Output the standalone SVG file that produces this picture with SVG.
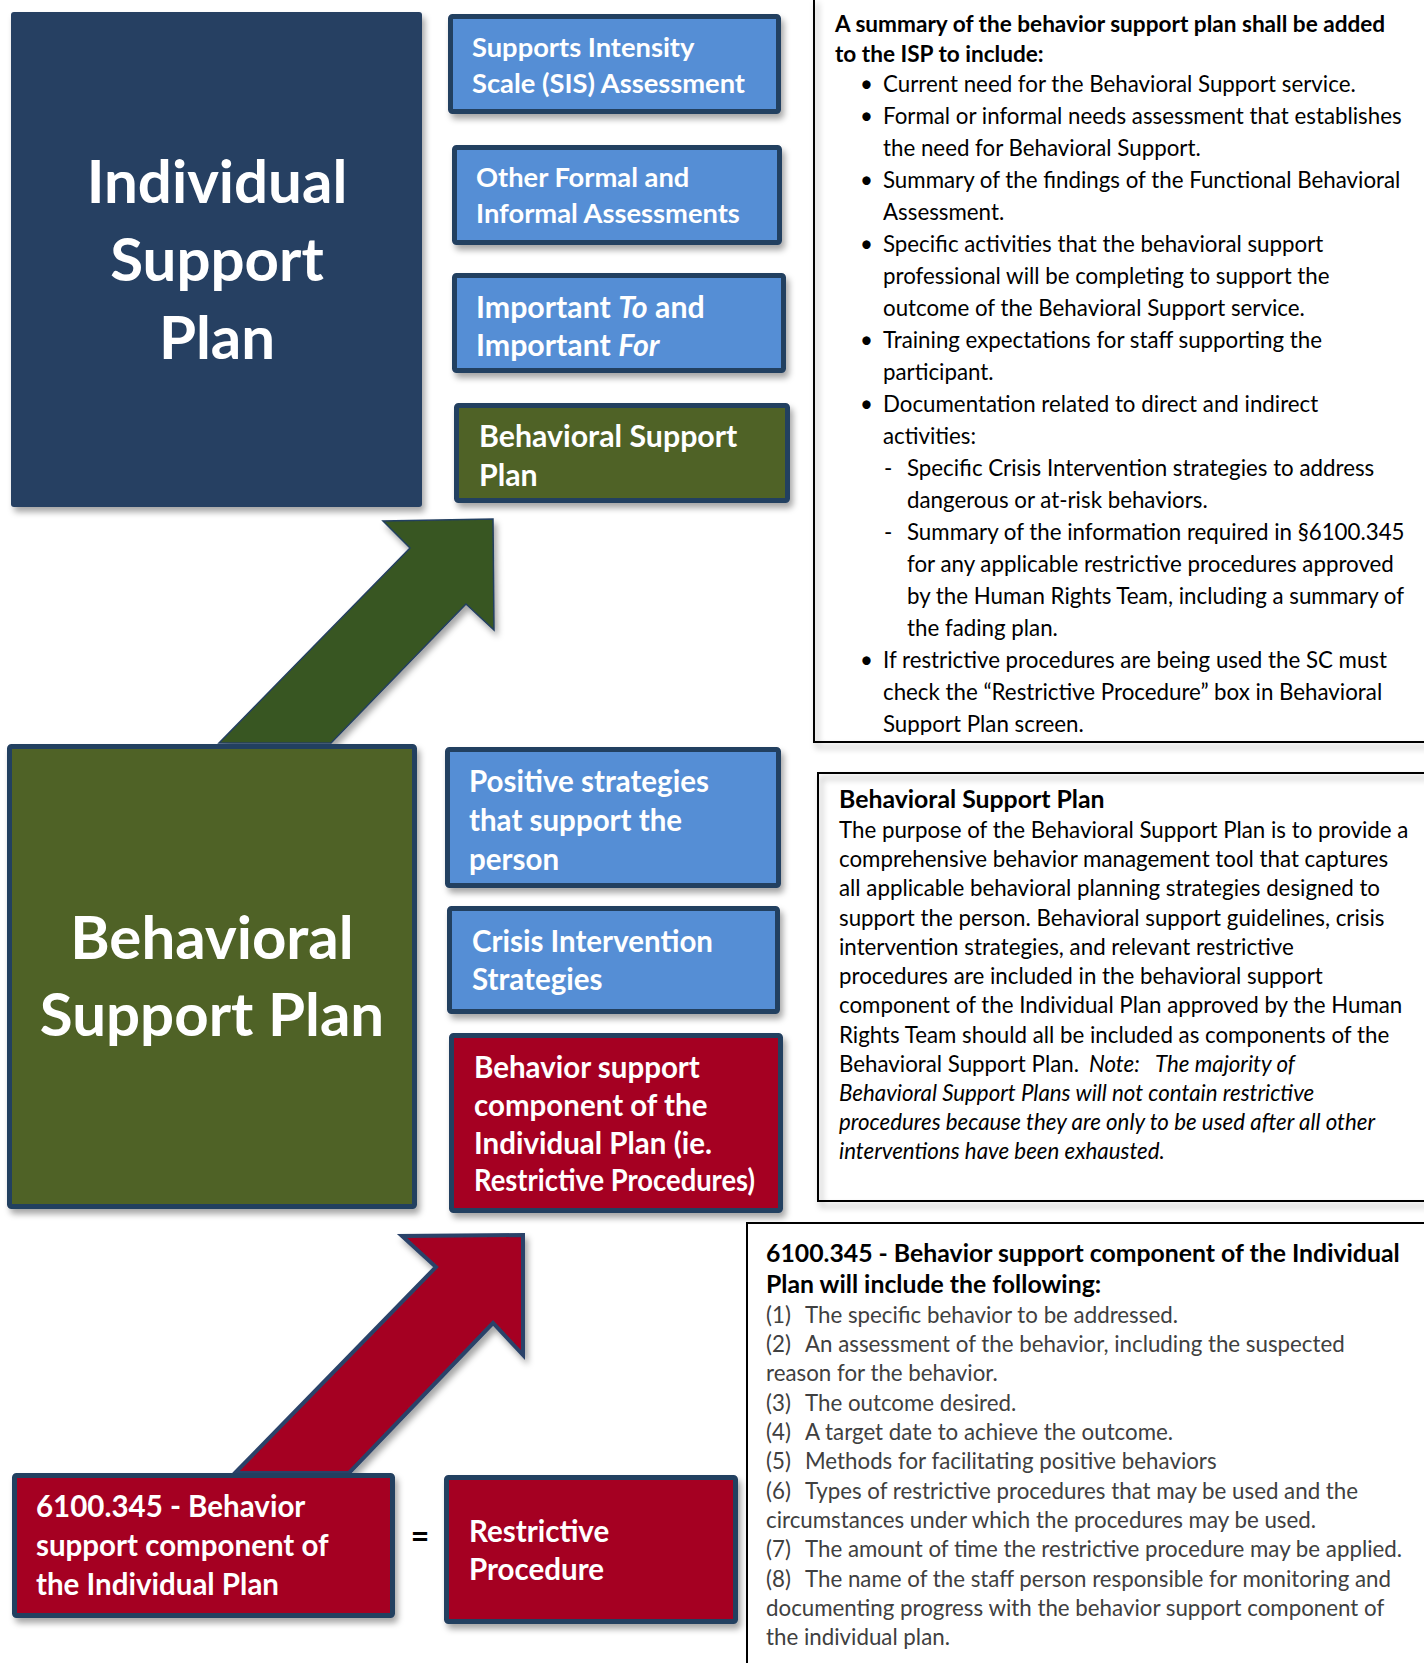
<svg xmlns="http://www.w3.org/2000/svg" width="1424" height="1663" viewBox="0 0 1424 1663">
<defs>
<filter id="sh" x="-10%" y="-10%" width="125%" height="130%">
<feDropShadow dx="3" dy="5" stdDeviation="3" flood-color="#000" flood-opacity="0.35"/>
</filter>
<clipPath id="p1clip"><rect x="814" y="0" width="610" height="735"/></clipPath>
<style>
.box{stroke:#243F60;stroke-width:5;}
.blue{fill:#558ED5;}
.green{fill:#4F6228;}
.red{fill:#A50021;}
.navy{fill:#253F62;}
.bt{font-family:Lato,"Liberation Sans",sans-serif;font-weight:bold;fill:#fff;}
.s{font-size:27.3px;}
.m{font-size:29.5px;}
.l{font-size:30.3px;}
.big{font-size:60px;text-anchor:middle;}
.pt{font-family:Lato,"Liberation Sans",sans-serif;font-size:22.3px;fill:#000;}
.ph{font-family:Lato,"Liberation Sans",sans-serif;font-size:22.6px;font-weight:bold;fill:#000;}
.ph2{font-size:24.8px;}
.gr{fill:#404040;}
.it{font-style:italic;}
.pan{fill:none;stroke:#000;stroke-width:2;}
</style>
</defs>
<rect width="1424" height="1663" fill="#fff"/>

<g id="connectors">
<polygon points="219,743 410,548 383,521 493,519 494,630 466,604 331,743" fill="#385623" stroke="#243F60" stroke-width="1.5" filter="url(#sh)"/>
<polygon points="235,1473 436,1267 402,1236 523,1235 523,1355 493,1323 349,1473" fill="#A50021" stroke="#2B4369" stroke-width="4" filter="url(#sh)"/>
</g>

<g id="isp">
<rect x="11" y="12" width="411" height="495" rx="3" class="navy" filter="url(#sh)"/>
<text class="bt big" x="217" y="203">Individual</text>
<text class="bt big" x="217" y="281">Support</text>
<text class="bt big" x="217" y="359">Plan</text>
</g>

<g id="sis">
<rect x="450.5" y="16.5" width="328" height="95" rx="2" class="box blue" filter="url(#sh)"/>
<text class="bt s" x="472" y="57">Supports Intensity</text>
<text class="bt s" x="472" y="93">Scale (SIS) Assessment</text>
</g>

<g id="other">
<rect x="454.5" y="147.5" width="325" height="95" rx="2" class="box blue" filter="url(#sh)"/>
<text class="bt s" x="476" y="187">Other Formal and</text>
<text class="bt s" x="476" y="223">Informal Assessments</text>
</g>

<g id="important">
<rect x="454.5" y="275.5" width="329" height="95" rx="2" class="box blue" filter="url(#sh)"/>
<text class="bt l" x="476" y="318">Important <tspan font-style="italic">To</tspan> and</text>
<text class="bt l" x="476" y="356">Important <tspan font-style="italic">For</tspan></text>
</g>

<g id="bsp-small">
<rect x="456.5" y="405.5" width="331" height="95" rx="2" class="box green" filter="url(#sh)"/>
<text class="bt l" x="479" y="447">Behavioral Support</text>
<text class="bt l" x="479" y="486">Plan</text>
</g>

<g id="bsp-big">
<rect x="9.5" y="746.5" width="405" height="460" rx="2" class="box green" filter="url(#sh)"/>
<text class="bt big" x="212" y="959">Behavioral</text>
<text class="bt big" x="212" y="1036">Support Plan</text>
</g>

<g id="positive">
<rect x="447.5" y="749.5" width="331" height="136" rx="2" class="box blue" filter="url(#sh)"/>
<text class="bt m" x="469" y="792">Positive strategies</text>
<text class="bt m" x="469" y="831">that support the</text>
<text class="bt m" x="469" y="870">person</text>
</g>

<g id="crisis">
<rect x="449.5" y="908.5" width="328" height="103" rx="2" class="box blue" filter="url(#sh)"/>
<text class="bt m" x="472" y="952">Crisis Intervention</text>
<text class="bt m" x="472" y="990">Strategies</text>
</g>

<g id="bsc">
<rect x="451.5" y="1035.5" width="329" height="175" rx="2" class="box red" filter="url(#sh)"/>
<text class="bt m" x="474" y="1078">Behavior support</text>
<text class="bt m" x="474" y="1116">component of the</text>
<text class="bt m" x="474" y="1154">Individual Plan (ie.</text>
<text class="bt m" x="474" y="1191" textLength="281" lengthAdjust="spacingAndGlyphs">Restrictive Procedures)</text>
</g>

<g id="rule6100">
<rect x="14.5" y="1475.5" width="378" height="140" rx="2" class="box red" filter="url(#sh)"/>
<text class="bt m" x="36" y="1517">6100.345 - Behavior</text>
<text class="bt m" x="36" y="1556">support component of</text>
<text class="bt m" x="36" y="1595">the Individual Plan</text>
</g>

<g id="equals">
<text x="420" y="1548" font-family="Lato,'Liberation Sans',sans-serif" font-weight="bold" font-size="32" text-anchor="middle" fill="#000">=</text>
</g>

<g id="restrictive">
<rect x="446.5" y="1477.5" width="289" height="144" rx="2" class="box red" filter="url(#sh)"/>
<text class="bt m" x="469" y="1542">Restrictive</text>
<text class="bt m" x="469" y="1580">Procedure</text>
</g>

<g id="panel-summary">
<path d="M814,-2 V742 H1426" class="pan" filter="url(#sh)"/>
<g clip-path="url(#p1clip)">
<text class="ph" x="835" y="32">A summary of the behavior support plan shall be added</text>
<text class="ph" x="835" y="62">to the ISP to include:</text>
<g class="pt">
<text x="860" y="92">•</text><text x="883" y="92">Current need for the Behavioral Support service.</text>
<text x="860" y="124">•</text><text x="883" y="124">Formal or informal needs assessment that establishes</text>
<text x="883" y="156">the need for Behavioral Support.</text>
<text x="860" y="188">•</text><text x="883" y="188">Summary of the findings of the Functional Behavioral</text>
<text x="883" y="220">Assessment.</text>
<text x="860" y="252">•</text><text x="883" y="252">Specific activities that the behavioral support</text>
<text x="883" y="284">professional will be completing to support the</text>
<text x="883" y="316">outcome of the Behavioral Support service.</text>
<text x="860" y="348">•</text><text x="883" y="348">Training expectations for staff supporting the</text>
<text x="883" y="380">participant.</text>
<text x="860" y="412">•</text><text x="883" y="412">Documentation related to direct and indirect</text>
<text x="883" y="444">activities:</text>
<text x="884" y="476">-</text><text x="907" y="476">Specific Crisis Intervention strategies to address</text>
<text x="907" y="508">dangerous or at-risk behaviors.</text>
<text x="884" y="540">-</text><text x="907" y="540">Summary of the information required in §6100.345</text>
<text x="907" y="572">for any applicable restrictive procedures approved</text>
<text x="907" y="604">by the Human Rights Team, including a summary of</text>
<text x="907" y="636">the fading plan.</text>
<text x="860" y="668">•</text><text x="883" y="668">If restrictive procedures are being used the SC must</text>
<text x="883" y="700">check the “Restrictive Procedure” box in Behavioral</text>
<text x="883" y="732">Support Plan screen.</text>
</g>
</g>
</g>

<g id="panel-bsp">
<path d="M1426,773 H818 V1201 H1426" class="pan" filter="url(#sh)"/>
<text class="ph ph2" x="839" y="808">Behavioral Support Plan</text>
<g class="pt">
<text x="839" y="838">The purpose of the Behavioral Support Plan is to provide a</text>
<text x="839" y="867">comprehensive behavior management tool that captures</text>
<text x="839" y="896">all applicable behavioral planning strategies designed to</text>
<text x="839" y="926">support the person. Behavioral support guidelines, crisis</text>
<text x="839" y="955">intervention strategies, and relevant restrictive</text>
<text x="839" y="984">procedures are included in the behavioral support</text>
<text x="839" y="1013">component of the Individual Plan approved by the Human</text>
<text x="839" y="1043">Rights Team should all be included as components of the</text>
<text x="839" y="1072">Behavioral Support Plan.<tspan class="it" x="1089">Note:</tspan><tspan class="it" x="1155">The majority of</tspan></text>
<text class="it" x="839" y="1101">Behavioral Support Plans will not contain restrictive</text>
<text class="it" x="839" y="1130">procedures because they are only to be used after all other</text>
<text class="it" x="839" y="1159">interventions have been exhausted.</text>
</g>
</g>

<g id="panel-6100">
<path d="M1426,1223 H747 V1665" class="pan"/>
<text class="ph ph2" x="766" y="1262">6100.345 - Behavior support component of the Individual</text>
<text class="ph ph2" x="766" y="1293">Plan will include the following:</text>
<g class="pt gr">
<text x="766" y="1323">(1)</text><text x="805" y="1323">The specific behavior to be addressed.</text>
<text x="766" y="1352">(2)</text><text x="805" y="1352">An assessment of the behavior, including the suspected</text>
<text x="766" y="1381">reason for the behavior.</text>
<text x="766" y="1411">(3)</text><text x="805" y="1411">The outcome desired.</text>
<text x="766" y="1440">(4)</text><text x="805" y="1440">A target date to achieve the outcome.</text>
<text x="766" y="1469">(5)</text><text x="805" y="1469">Methods for facilitating positive behaviors</text>
<text x="766" y="1499">(6)</text><text x="805" y="1499">Types of restrictive procedures that may be used and the</text>
<text x="766" y="1528">circumstances under which the procedures may be used.</text>
<text x="766" y="1557">(7)</text><text x="805" y="1557">The amount of time the restrictive procedure may be applied.</text>
<text x="766" y="1587">(8)</text><text x="805" y="1587">The name of the staff person responsible for monitoring and</text>
<text x="766" y="1616">documenting progress with the behavior support component of</text>
<text x="766" y="1645">the individual plan.</text>
</g>
</g>
</svg>
